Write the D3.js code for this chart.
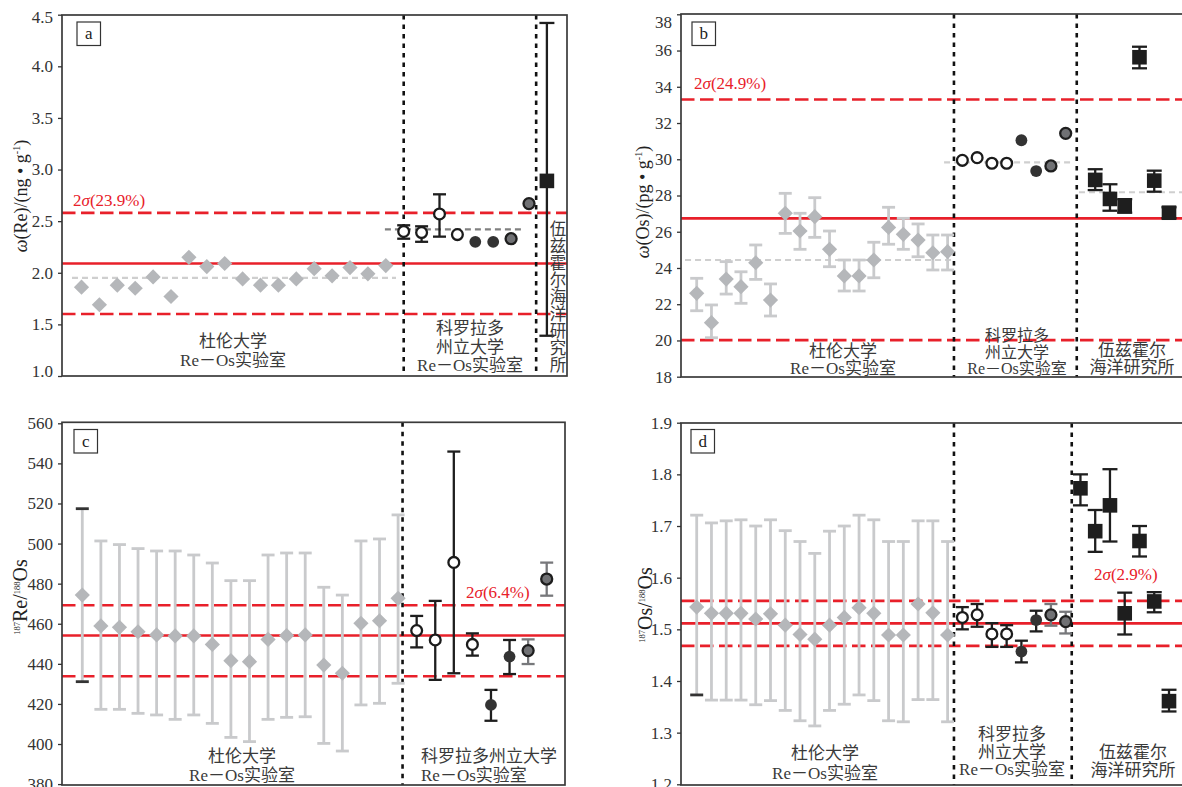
<!DOCTYPE html>
<html>
<head>
<meta charset="utf-8">
<script src="https://cdn.jsdelivr.net/npm/d3@7"></script>
<style>
  body { margin: 0; background: #fff; }
  svg { display: block; }
  text { font-family: "Liberation Serif", "Times New Roman", serif; }
  .cjk { font-family: "Liberation Serif", "Noto Sans CJK SC", sans-serif; }
</style>
</head>
<body>
<div id="chart"></div>
<script>
// ---- data ----
// marker kind of the 8 Colorado analyses, same order in every panel
const coloradoKind = ["open", "open", "open", "open", "dark", "dark", "gray", "gray"];

// a: w(Re) ng/g
const durhamRe = [1.86, 1.69, 1.88, 1.85, 1.96, 1.77, 2.15, 2.06, 2.09, 1.94, 1.88, 1.88, 1.94, 2.04, 1.97, 2.05, 1.99, 2.07];
const coloradoRe = [2.40, 2.39, 2.57, 2.37, 2.30, 2.30, 2.33, 2.67];
const coloradoReLo = [2.33, 2.30, 2.35, null, null, null, null, null];
const coloradoReHi = [2.46, 2.45, 2.76, null, null, null, null, null];
const woodsRe = [2.89];
const woodsReLo = [1.39];
const woodsReHi = [4.42];
const refRe = [2.58, 2.09, 1.60];      // +2s, mean, -2s
const meanRe = [1.95, 2.42];           // Durham, Colorado
const ticksRe = [1.0, 1.5, 2.0, 2.5, 3.0, 3.5, 4.0, 4.5];

// b: w(Os) pg/g
const durhamOs = [22.60, 20.98, 23.39, 22.97, 24.29, 22.23, 27.02, 26.04, 26.83, 25.03, 23.56, 23.56, 24.44, 26.24, 25.86, 25.54, 24.84, 24.90];
const durhamOsLo = [21.64, 20.15, 22.56, 22.05, 23.37, 21.35, 25.91, 25.03, 25.69, 24.07, 22.73, 22.73, 23.46, 25.31, 25.03, 24.62, 23.89, 23.89];
const durhamOsHi = [23.43, 21.96, 24.35, 23.79, 25.27, 23.12, 28.12, 27.02, 27.88, 26.04, 24.44, 24.44, 25.42, 27.35, 26.74, 26.43, 25.82, 25.82];
const coloradoOs = [29.94, 30.09, 29.78, 29.78, 31.05, 29.35, 29.63, 31.43];
const woodsOs = [28.86, 27.81, 27.42, 35.63, 28.82, 27.05];
const woodsOsLo = [28.30, 27.16, 27.05, 35.02, 28.21, 26.75];
const woodsOsHi = [29.45, 28.62, 27.80, 36.21, 29.37, 27.35];
const refOs = [33.30, 26.74, 20.02];
const meanOs = [24.44, 29.83, 28.18];  // Durham, Colorado, Woods Hole
const ticksOs = [18, 20, 22, 24, 26, 28, 30, 32, 34, 36, 38];

// c: 187Re/188Os
const durhamReOs = [474.3, 458.9, 458.2, 456.0, 454.4, 453.9, 453.9, 449.7, 441.6, 441.1, 452.2, 454.1, 454.4, 439.4, 435.3, 460.2, 461.5, 472.7];
const durhamReOsLo = [431.1, 417.3, 417.3, 415.3, 414.5, 412.3, 414.5, 410.3, 403.3, 401.2, 412.3, 413.3, 413.6, 400.3, 396.5, 419.5, 420.3, 430.3];
const durhamReOsHi = [517.4, 501.3, 499.5, 497.5, 496.3, 496.3, 494.3, 490.3, 481.5, 481.5, 494.3, 495.3, 495.3, 478.2, 474.3, 501.3, 502.3, 514.3];
const coloradoReOs = [456.6, 451.9, 490.6, 449.7, 419.5, 443.6, 446.6, 482.3];
const coloradoReOsLo = [448.2, 432.0, 435.3, 444.1, 411.6, 434.9, 439.9, 474.0];
const coloradoReOsHi = [463.9, 471.4, 545.9, 455.2, 427.0, 451.9, 452.2, 490.5];
const refReOs = [469.2, 454.1, 433.8];
const ticksReOs = [380, 400, 420, 440, 460, 480, 500, 520, 540, 560];

// d: 187Os/188Os
const durhamOsOs = [1.543, 1.531, 1.531, 1.531, 1.520, 1.530, 1.508, 1.490, 1.481, 1.508, 1.523, 1.542, 1.531, 1.489, 1.489, 1.549, 1.532, 1.489];
const durhamOsOsLo = [1.373, 1.363, 1.363, 1.363, 1.354, 1.362, 1.343, 1.323, 1.313, 1.343, 1.355, 1.373, 1.362, 1.323, 1.321, 1.364, 1.364, 1.321];
const durhamOsOsHi = [1.721, 1.706, 1.710, 1.712, 1.700, 1.712, 1.691, 1.670, 1.647, 1.690, 1.700, 1.721, 1.712, 1.670, 1.670, 1.710, 1.710, 1.670];
const coloradoOsOs = [1.523, 1.528, 1.491, 1.491, 1.457, 1.518, 1.528, 1.515];
const coloradoOsOsLo = [1.500, 1.505, 1.466, 1.466, 1.436, 1.496, 1.507, 1.492];
const coloradoOsOsHi = [1.543, 1.549, 1.512, 1.508, 1.478, 1.536, 1.549, 1.534];
const woodsOsOs = [1.773, 1.690, 1.740, 1.531, 1.671, 1.554, 1.361];
const woodsOsOsLo = [1.740, 1.650, 1.670, 1.490, 1.641, 1.533, 1.341];
const woodsOsOsHi = [1.800, 1.731, 1.810, 1.571, 1.700, 1.572, 1.383];
const refOsOs = [1.555, 1.5116, 1.468];
const ticksOsOs = [1.2, 1.3, 1.4, 1.5, 1.6, 1.7, 1.8, 1.9];

// lab names
const labDurham = ["杜伦大学", "Re－Os实验室"];
const labColorado = ["科罗拉多", "州立大学", "Re－Os实验室"];
const labColoradoWide = ["科罗拉多州立大学", "Re－Os实验室"];
const labWoods = ["伍兹霍尔", "海洋研究所"];

// ---- drawing ----
const RED = "#e8202a";
const svg = d3.select("#chart").append("svg").attr("width", 1182).attr("height", 787);

function pts(vals, lo, hi, start, kind) {
  return vals.map((v, k) => ({
    i: start + k, v,
    lo: lo ? lo[k] : null, hi: hi ? hi[k] : null,
    kind: typeof kind === "string" ? kind : kind[k]
  }));
}

function drawPanel(p) {
  const g = svg.append("g");
  const x = d3.scaleLinear().domain(p.xDomain).range(p.xRange);
  const y = d3.scaleLinear().domain(p.yDomain).range(p.yRange);
  const [fx0, fx1] = p.frameX, [fy0, fy1] = p.frameY;

  // 2 sigma band: dashed / solid / dashed
  g.append("g").selectAll("line").data(p.ref).join("line")
    .attr("x1", fx0).attr("x2", fx1)
    .attr("y1", d => y(d)).attr("y2", d => y(d))
    .attr("stroke", RED).attr("stroke-width", 2.6)
    .attr("stroke-dasharray", (d, i) => i === 1 ? null : "13.5,5.5");

  // lab means
  g.append("g").selectAll("line").data(p.means || []).join("line")
    .attr("x1", d => x(d.from)).attr("x2", d => x(d.to))
    .attr("y1", d => y(d.v)).attr("y2", d => y(d.v))
    .attr("stroke", d => d.color).attr("stroke-width", 2.2)
    .attr("stroke-dasharray", "6,4");

  // lab separators
  g.append("g").selectAll("line").data(p.seps).join("line")
    .attr("x1", d => x(d)).attr("x2", d => x(d))
    .attr("y1", fy0).attr("y2", fy1)
    .attr("stroke", "#111").attr("stroke-width", 2.6)
    .attr("stroke-dasharray", "4.5,5");

  // error bars
  const barColor = d => d.kind === "diamond" ? "#c9cacc" : d.kind === "gray" ? "#77787b" : "#1e1e1e";
  const capW = d => d.kind === "square" ? 7.5 : 6.5;
  const bars = g.append("g").selectAll("g").data(p.points.filter(d => d.lo != null)).join("g")
    .attr("stroke", barColor).attr("stroke-width", d => d.kind === "diamond" ? 2.8 : 2.3);
  bars.append("line")
    .attr("x1", d => x(d.i)).attr("x2", d => x(d.i))
    .attr("y1", d => y(d.lo)).attr("y2", d => y(d.hi));
  ["lo", "hi"].forEach(end => {
    bars.append("line")
      .attr("x1", d => x(d.i) - capW(d)).attr("x2", d => x(d.i) + capW(d))
      .attr("y1", d => y(d[end])).attr("y2", d => y(d[end]))
      .attr("stroke", d => (p.darkCaps && d.i === 0 && p.darkCaps.includes(end)) ? "#333" : null);
  });

  // markers
  const m = g.append("g").selectAll("g").data(p.points).join("g")
    .attr("transform", d => `translate(${x(d.i)},${y(d.v)})`);
  m.filter(d => d.kind === "diamond").append("path")
    .attr("d", "M0,-7.6L7.6,0L0,7.6L-7.6,0Z").attr("fill", "#b5b7ba");
  m.filter(d => d.kind === "open").append("circle")
    .attr("r", 5.4).attr("fill", "#fff").attr("stroke", "#1b1b1b").attr("stroke-width", 2.3);
  m.filter(d => d.kind === "dark").append("circle")
    .attr("r", 5.9).attr("fill", "#333");
  m.filter(d => d.kind === "gray").append("circle")
    .attr("r", 5.5).attr("fill", "#707174").attr("stroke", "#1e1e1e").attr("stroke-width", 2.3);
  m.filter(d => d.kind === "square").append("rect")
    .attr("x", -7.3).attr("y", -7.3).attr("width", 14.6).attr("height", 14.6).attr("fill", "#1e1e1e");

  // frame
  g.append("rect").attr("x", fx0).attr("y", fy0)
    .attr("width", fx1 - fx0).attr("height", fy1 - fy0)
    .attr("fill", "none").attr("stroke", "#3a3a3a").attr("stroke-width", 1.7);

  // y axis
  const ax = g.append("g").attr("transform", `translate(${fx0},0)`)
    .call(d3.axisLeft(y).tickValues(p.ticks).tickSize(4).tickPadding(5).tickFormat(p.fmt));
  ax.select(".domain").remove();
  ax.selectAll(".tick line").attr("stroke", "#333").attr("stroke-width", 1.3);
  ax.selectAll(".tick text")
    .attr("font-family", "Liberation Serif").attr("font-size", 17).attr("fill", "#333")
    .attr("dy", (d, i, n) => i === n.length - 1 ? `${0.32 + (p.topNudge || 0) / 17}em` : i === 0 ? `${0.32 + (p.bottomNudge || 0) / 17}em` : "0.32em");

  // y title
  const t = g.append("text")
    .attr("transform", `translate(${p.title.x},${p.title.y}) rotate(-90)`)
    .attr("text-anchor", "middle").attr("fill", "#222").attr("font-size", p.title.size);
  p.title.parts.forEach(s => {
    const ts = t.append("tspan").text(s.t);
    if (s.italic) ts.attr("font-style", "italic");
    if (s.sup) ts.attr("font-size", s.sup).attr("dy", s.dy);
    if (s.down) ts.attr("dy", s.down);
  });

  // panel letter
  g.append("rect").attr("x", p.box[0]).attr("y", p.box[1]).attr("width", 23.5).attr("height", 23.5)
    .attr("fill", "#fff").attr("stroke", "#333").attr("stroke-width", 1.2);
  g.append("text").attr("x", p.box[0] + 11.75).attr("y", p.box[1] + 17)
    .attr("text-anchor", "middle").attr("font-size", 17).attr("fill", "#222").text(p.letter);

  // 2 sigma label
  const s = g.append("text").attr("x", p.sigma.x).attr("y", p.sigma.y)
    .attr("font-size", 17).attr("fill", RED);
  s.append("tspan").text("2");
  s.append("tspan").attr("font-style", "italic").text("σ");
  s.append("tspan").text(p.sigma.t);

  // lab names
  p.labels.forEach(l => {
    g.append("g").selectAll("text").data(l.lines).join("text")
      .attr("class", "cjk")
      .attr("x", l.x).attr("y", (d, k) => l.y + k * l.step)
      .attr("text-anchor", l.anchor || "middle")
      .attr("font-size", l.size || 17).attr("fill", "#3a3a3a")
      .text(d => d);
  });
}

// panel a
drawPanel({
  letter: "a",
  xDomain: [0, 17], xRange: [81.5, 385.8],
  yDomain: [1.0, 4.5], yRange: [376, 14.7],
  frameX: [62, 567], frameY: [15, 376],
  ticks: ticksRe, fmt: d3.format(".1f"), topNudge: 2.6, bottomNudge: -5,
  ref: refRe,
  means: [{ v: meanRe[0], from: -0.53, to: 17.57, color: "#cfcfcf" },
          { v: meanRe[1], from: 16.95, to: 24.66, color: "#808080" }],
  seps: [18, 25.4],
  points: [...pts(durhamRe, null, null, 0, "diamond"),
           ...pts(coloradoRe, coloradoReLo, coloradoReHi, 18, coloradoKind),
           ...pts(woodsRe, woodsReLo, woodsReHi, 26, "square")],
  title: { x: 27, y: 196, size: 18, parts: [
    { t: "ω", italic: true }, { t: "(Re)/(ng • g" }, { t: "-1", sup: 10, dy: -7 }, { t: ")", down: 7 }] },
  box: [77, 22],
  sigma: { x: 73, y: 206, t: "(23.9%)" },
  labels: [
    { lines: labDurham, x: 233, y: 347, step: 19 },
    { lines: labColorado, x: 470, y: 334, step: 18.5 },
    { lines: Array.from("伍兹霍尔海洋研究所"), x: 558, y: 234.5, step: 17.1, size: 16.5 }
  ]
});

// panel b
drawPanel({
  letter: "b",
  xDomain: [0, 32], xRange: [696.7, 1169],
  yDomain: [18, 38], yRange: [376.7, 14.3],
  frameX: [681, 1183], frameY: [14, 377],
  ticks: ticksOs, fmt: d3.format("d"), topNudge: 8,
  ref: refOs,
  means: [{ v: meanOs[0], from: -0.79, to: 17.37, color: "#cfcfcf" },
          { v: meanOs[1], from: 16.76, to: 25.3, color: "#cfcfcf" },
          { v: meanOs[2], from: 25.9, to: 33, color: "#cfcfcf" }],
  seps: [17.43, 25.75],
  points: [...pts(durhamOs, durhamOsLo, durhamOsHi, 0, "diamond"),
           ...pts(coloradoOs, null, null, 18, coloradoKind),
           ...pts(woodsOs, woodsOsLo, woodsOsHi, 27, "square")],
  title: { x: 649, y: 202, size: 18, parts: [
    { t: "ω", italic: true }, { t: "(Os)/(pg • g" }, { t: "-1", sup: 10, dy: -7 }, { t: ")", down: 7 }] },
  box: [692, 22],
  sigma: { x: 694, y: 89, t: "(24.9%)" },
  labels: [
    { lines: labDurham, x: 843, y: 357, step: 17 },
    { lines: labColorado, x: 1017, y: 341, step: 16.5, size: 16 },
    { lines: labWoods, x: 1132, y: 356, step: 17 }
  ]
});

// panel c
drawPanel({
  letter: "c",
  xDomain: [0, 25], xRange: [82.3, 546.7],
  yDomain: [380, 560], yRange: [784.1, 423.3],
  frameX: [62, 565], frameY: [422.3, 785],
  ticks: ticksReOs, fmt: d3.format("d"),
  ref: refReOs,
  seps: [17.24],
  darkCaps: ["lo", "hi"],
  points: [...pts(durhamReOs, durhamReOsLo, durhamReOsHi, 0, "diamond"),
           ...pts(coloradoReOs, coloradoReOsLo, coloradoReOsHi, 18, coloradoKind)],
  title: { x: 27, y: 597, size: 20, parts: [
    { t: "187", sup: 8.5, dy: -7 }, { t: "Re/", down: 7 }, { t: "188", sup: 8.5, dy: -7 }, { t: "Os", down: 7 }] },
  box: [74, 429.5],
  sigma: { x: 466, y: 598, t: "(6.4%)" },
  labels: [
    { lines: labDurham, x: 242, y: 762, step: 19 },
    { lines: labColoradoWide, x: 421, y: 762, step: 19, anchor: "start" }
  ]
});

// panel d
drawPanel({
  letter: "d",
  xDomain: [0, 32], xRange: [696.7, 1169],
  yDomain: [1.2, 1.9], yRange: [784.3, 422.7],
  frameX: [681, 1183], frameY: [423, 785],
  ticks: ticksOsOs, fmt: d3.format(".1f"),
  ref: refOsOs,
  seps: [17.43, 25.41],
  darkCaps: ["lo"],
  points: [...pts(durhamOsOs, durhamOsOsLo, durhamOsOsHi, 0, "diamond"),
           ...pts(coloradoOsOs, coloradoOsOsLo, coloradoOsOsHi, 18, coloradoKind),
           ...pts(woodsOsOs, woodsOsOsLo, woodsOsOsHi, 26, "square")],
  title: { x: 652, y: 605, size: 20, parts: [
    { t: "187", sup: 8.5, dy: -7 }, { t: "Os/", down: 7 }, { t: "188", sup: 8.5, dy: -7 }, { t: "Os", down: 7 }] },
  box: [691, 429.5],
  sigma: { x: 1094, y: 580, t: "(2.9%)" },
  labels: [
    { lines: labDurham, x: 825, y: 759, step: 20 },
    { lines: labColorado, x: 1012, y: 740, step: 17.5 },
    { lines: labWoods, x: 1133, y: 758, step: 18 }
  ]
});
</script>
</body>
</html>
